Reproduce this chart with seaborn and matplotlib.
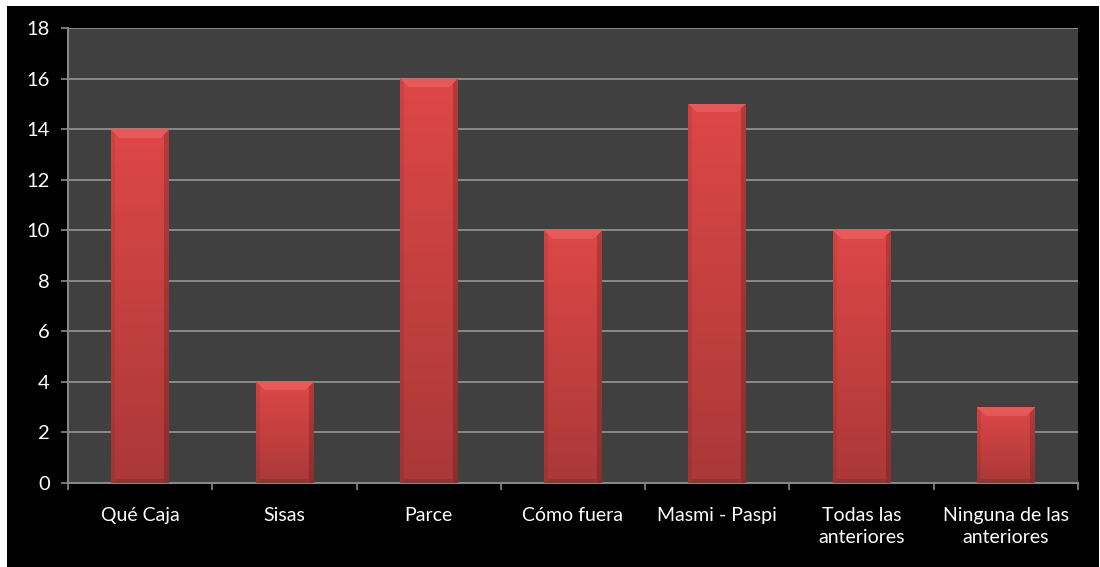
import numpy as np
import pandas as pd
import matplotlib
matplotlib.use("Agg")
import matplotlib.pyplot as plt
from matplotlib.patches import Rectangle
import seaborn as sns

categories = ["Qué Caja", "Sisas", "Parce", "Cómo fuera", "Masmi - Paspi",
              "Todas las\nanteriores", "Ninguna de las\nanteriores"]
values = [14, 4, 16, 10, 15, 10, 3]
y_ticks = [0, 2, 4, 6, 8, 10, 12, 14, 16, 18]

sns.set_theme(style="dark")
plt.rcParams['font.family'] = ['Lato', 'DejaVu Sans']

W, H = 1100, 567
fig = plt.figure(figsize=(W / 100, H / 100), dpi=100)
fig.patch.set_facecolor("white")
bg = Rectangle((7 / W, 0), (1099 - 7) / W, (567 - 6) / H,
               transform=fig.transFigure, facecolor="black",
               edgecolor="none", zorder=-10)
fig.add_artist(bg)

ax = fig.add_axes([68 / W, (H - 483) / H, (1078 - 68) / W, (483 - 28) / H])
ax.set_zorder(5)
ax.set_facecolor("#404040")

df = pd.DataFrame({"cat": categories, "val": values})
sns.barplot(data=df, x="cat", y="val", color="#d04040", saturation=1,
            width=0.4, ax=ax, zorder=3)

ax.set_ylim(0, 18)
ax.set_xlim(-0.5, len(categories) - 0.5)
ax.set_yticks(y_ticks)
ax.set_xlabel("")
ax.set_ylabel("")
ax.grid(False)
ax.yaxis.grid(True, color="#8a8a8a", linewidth=1.4, zorder=1)
ax.set_axisbelow(True)

for side in ["top", "right"]:
    ax.spines[side].set_visible(False)
for side in ["left", "bottom"]:
    ax.spines[side].set_visible(True)
    ax.spines[side].set_color("#8a8a8a")
    ax.spines[side].set_linewidth(1.4)

ax.tick_params(axis="y", colors="white", labelsize=14.5, length=5, width=1.2,
               direction="out", left=True, pad=8, color="#8a8a8a")
ax.tick_params(axis="x", which="major", colors="white", labelsize=14,
               length=0, pad=17)
ax.set_xticks(np.arange(-0.5, len(categories), 1.0), minor=True)
ax.tick_params(axis="x", which="minor", length=5, width=1.2, color="#8a8a8a",
               bottom=True, direction="out")
for lbl in ax.get_yticklabels():
    lbl.set_color("white")
for lbl in ax.get_xticklabels():
    lbl.set_color("white")
    lbl.set_verticalalignment("top")
    lbl.set_linespacing(1.4)

# bevelled gradient fill for each bar
fig.canvas.draw()
top_c = np.array([0.87, 0.28, 0.28])
bot_c = np.array([0.67, 0.22, 0.22])
for p in ax.patches:
    bb = p.get_window_extent()
    w = max(int(round(bb.width)), 2)
    h = max(int(round(bb.height)), 2)
    t = np.linspace(0, 1, h)[:, None, None]
    img = (top_c * (1 - t) + bot_c * t) * np.ones((h, w, 3))
    r = np.arange(h)[:, None]
    c = np.arange(w)[None, :]
    b = 9
    topb = (r < b) & (r <= c) & (r <= w - 1 - c)
    leftb = (c < 4) & (c < r) & ~topb
    rightb = (w - 1 - c < 5) & (w - 1 - c < r) & ~topb
    botb = (h - 1 - r < 4) & ~leftb & ~rightb
    img[topb] = img[topb] * 0.7 + np.array([1.0, 0.52, 0.52]) * 0.3
    img[leftb] = img[leftb] * 0.93
    img[rightb] = img[rightb] * 0.82
    img[botb] = img[botb] * 0.9
    x0, y0 = p.get_x(), p.get_y()
    im = ax.imshow(img, extent=[x0, x0 + p.get_width(), y0, y0 + p.get_height()],
                   aspect="auto", zorder=4, interpolation="nearest")
    im.set_clip_path(p)
    p.set_edgecolor("none")

ax.set_xlim(-0.5, len(categories) - 0.5)
ax.set_ylim(0, 18)

fig.savefig("out.png", dpi=100, facecolor=fig.get_facecolor())
